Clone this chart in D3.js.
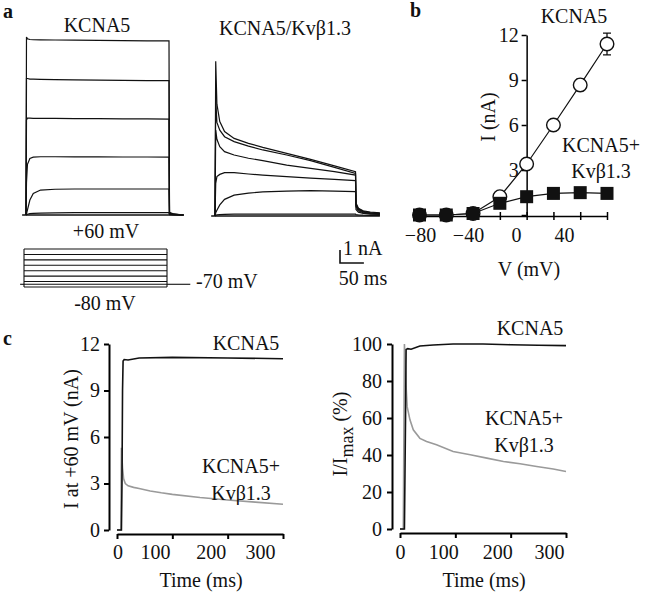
<!DOCTYPE html>
<html><head><meta charset="utf-8">
<script src="https://cdn.jsdelivr.net/npm/d3@7"></script>
<style>
body{margin:0;background:#fff}
svg, svg text, svg g{font-family:"Liberation Serif","DejaVu Serif","Noto Serif",serif !important}
svg text{font-size:20px;fill:#111}
</style>
</head><body>
<svg id="fig" width="647" height="594" font-family="Liberation Serif"></svg>
<script>
// ---------------- DATA ----------------
// Panel a: KCNA5 current traces (nA) vs time (ms)
const kcnaTime = [0, 1, 3, 8, 15, 30, 60, 100, 150, 200, 250, 295, 296, 305, 325];
const kcnaTrace1 = [0, 13.7, 13.55, 13.5, 13.48, 13.47, 13.46, 13.45, 13.44, 13.42, 13.4, 13.4, 0.2, 0.08, 0];
const kcnaTrace2 = [0, 10.5, 10.5, 10.45, 10.45, 10.44, 10.42, 10.4, 10.38, 10.36, 10.34, 10.33, 0.15, 0.06, 0];
const kcnaTrace3 = [0, 7.3, 7.45, 7.45, 7.44, 7.44, 7.43, 7.42, 7.41, 7.4, 7.39, 7.38, 0.12, 0.05, 0];
const kcnaTrace4 = [0, 2.5, 3.9, 4.35, 4.45, 4.48, 4.48, 4.47, 4.47, 4.46, 4.46, 4.45, 0.1, 0.04, 0];
const kcnaTrace5 = [0, 0.1, 0.4, 1.15, 1.65, 1.92, 1.98, 2.0, 2.0, 2.0, 2.0, 2.0, 0.06, 0.02, 0];
const kcnaTrace6 = [0, 0.02, 0.06, 0.1, 0.13, 0.15, 0.17, 0.18, 0.18, 0.18, 0.18, 0.18, 0.03, 0.01, 0];
const kcnaBaseline = {t: [-8, 325], v: [0, 0]};

// Panel a: KCNA5/Kvβ1.3 current traces (nA)
const betaTime = [0, 1.5, 4, 10, 20, 40, 70, 100, 150, 200, 250, 294, 295, 300, 310, 325, 345];
const betaTraceA = [0, 11.9, 8.6, 7.26, 6.5, 5.97, 5.59, 5.28, 4.82, 4.36, 3.85, 3.41, 1.0, 0.6, 0.4, 0.3, 0.25];
const betaTraceB = [0, 9.0, 7.2, 6.6, 6.1, 5.72, 5.38, 5.08, 4.69, 4.26, 3.74, 3.28, 0.9, 0.55, 0.35, 0.25, 0.2];
const betaTraceC = [0, 6.6, 5.9, 5.33, 4.95, 4.69, 4.44, 4.26, 3.92, 3.67, 3.41, 3.15, 0.8, 0.5, 0.3, 0.22, 0.18];
const betaTraceD = [0, 2.5, 3.03, 3.2, 3.33, 3.33, 3.23, 3.15, 3.03, 2.92, 2.82, 2.72, 0.7, 0.4, 0.25, 0.18, 0.15];
const betaTraceE = [0, 0.25, 0.45, 0.85, 1.28, 1.6, 1.76, 1.85, 1.92, 1.95, 1.92, 1.87, 0.5, 0.3, 0.2, 0.15, 0.12];
const betaTraceF = [0, 0.05, 0.08, 0.1, 0.12, 0.14, 0.15, 0.15, 0.15, 0.15, 0.15, 0.15, 0.1, 0.08, 0.06, 0.05, 0.05];
const betaBaseline = {t: [-8, 345], v: [0, 0]};

// Voltage protocol (mV)
const protocolSteps = [-80, -60, -40, -20, 0, 20, 40, 60];
const holdingPotential = -70;
const pulseDuration = 295;

// Panel b: I–V relation
const ivVoltage = [-80, -60, -40, -20, 0, 20, 40, 60];
const ivKCNA5 = [0, 0, 0.1, 1.22, 3.4, 6.0, 8.67, 11.4];
const ivKCNA5Err = [0, 0, 0, 0.1, 0.15, 0.1, 0.38, 0.72];
const ivBeta = [0, 0, 0.1, 0.78, 1.22, 1.44, 1.49, 1.44];
const ivXTicks = [-80, -60, -40, -20, 0, 20, 40, 60];
const ivXLabels = [-80, -40, 0, 40];
const ivYTicks = [0, 3, 6, 9, 12];

// Panel c (left): current at +60 mV (nA)
const cKcnaTime = [0, 8, 9, 10, 11, 13, 20, 40, 100, 200, 300];
const cKcnaCurrent = [0, 0, 3, 9, 10.9, 11.0, 10.97, 11.1, 11.14, 11.1, 11.05];
const cBetaTime = [0, 7, 8, 10, 12, 15, 20, 30, 40, 60, 80, 100, 150, 200, 250, 300];
const cBetaCurrent = [0, 0, 5.3, 4.0, 3.3, 3.0, 2.85, 2.75, 2.68, 2.52, 2.4, 2.3, 2.1, 1.94, 1.8, 1.66];
const cLeftYTicks = [0, 3, 6, 9, 12];
const timeTicks = [0, 100, 200, 300];

// Panel c (right): normalized current (%)
const nKcnaTime = [0, 8, 10, 11, 14, 20, 36, 60, 96, 150, 200, 250, 300];
const nKcnaValue = [0, 0, 60, 97, 97.5, 97.2, 98.9, 99.5, 100, 100, 99.6, 99.3, 99.1];
const nBetaTime = [0, 6, 8, 11, 13, 18, 24, 36, 48, 66, 96, 127, 157, 187, 217, 247, 277, 300];
const nBetaValue = [0, 0, 100, 77, 66, 59, 53.6, 49, 47.3, 45.5, 41.9, 40.1, 38.3, 36.5, 35.3, 33.8, 32.4, 31.1];
const cRightYTicks = [0, 20, 40, 60, 80, 100];

// ---------------- DRAW ----------------
const svg = d3.select("#fig");
const zip = (t, v) => t.map((d, i) => [d, v[i]]);
const greyCol = "#9a9a9a";
const FONT = "Liberation Serif";

function text(x, y, s, opts = {}) {
  const t = svg.append("text").attr("x", x).attr("y", y).attr("font-family", FONT).text(s);
  if (opts.anchor) t.attr("text-anchor", opts.anchor);
  if (opts.bold) t.attr("font-weight", "bold");
  return t;
}

// ===== Panel a =====
text(3, 18, "a", {bold: true});
text(97, 32, "KCNA5", {anchor: "middle"});
text(285, 35, "KCNA5/Kvβ1.3", {anchor: "middle"});

const axL = d3.scaleLinear().domain([0, 295]).range([26, 169]);
const ayL = d3.scaleLinear().domain([0, 1]).range([215, 202]);
const lineL = d3.line().x(d => axL(d[0])).y(d => ayL(d[1]));
const gA = svg.append("g").attr("fill", "none").attr("stroke", "#111").attr("stroke-width", 1.2);
gA.append("path").attr("d", lineL(zip(kcnaBaseline.t, kcnaBaseline.v))).attr("stroke-width", 1.6);
[kcnaTrace1, kcnaTrace2, kcnaTrace3, kcnaTrace4, kcnaTrace5, kcnaTrace6].forEach(tr => {
  gA.append("path").attr("d", lineL(zip(kcnaTime, tr)));
});

const axR = d3.scaleLinear().domain([0, 295]).range([215, 356]);
const ayR = d3.scaleLinear().domain([0, 1]).range([216, 203]);
const lineR = d3.line().x(d => axR(d[0])).y(d => ayR(d[1]));
gA.append("path").attr("d", lineR(zip(betaBaseline.t, betaBaseline.v))).attr("stroke-width", 1.6);
[betaTraceA, betaTraceB, betaTraceC, betaTraceD, betaTraceE, betaTraceF].forEach(tr => {
  gA.append("path").attr("d", lineR(zip(betaTime, tr)));
});

// scale bar (1 nA, 50 ms) using right-trace scales
const sbX0 = 340, sbY0 = 263;
gA.append("path").attr("stroke-width", 1.6)
  .attr("d", `M${sbX0},${sbY0 - (ayR(0) - ayR(1))}V${sbY0}H${sbX0 + (axR(50) - axR(0))}`);
text(343, 255, "1 nA");
text(363, 285, "50 ms", {anchor: "middle"});

// voltage protocol
const pX = d3.scaleLinear().domain([0, pulseDuration]).range([24, 167]);
const pY = d3.scaleLinear().domain([-80, 60]).range([287, 249]);
const gP = svg.append("g").attr("stroke", "#111").attr("stroke-width", 1.1).attr("fill", "none");
protocolSteps.forEach(v => {
  gP.append("line").attr("x1", pX(0)).attr("x2", pX(pulseDuration)).attr("y1", pY(v)).attr("y2", pY(v));
});
gP.append("line").attr("x1", pX(0)).attr("x2", pX(0)).attr("y1", pY(-80)).attr("y2", pY(60));
gP.append("line").attr("x1", pX(pulseDuration)).attr("x2", pX(pulseDuration)).attr("y1", pY(-80)).attr("y2", pY(60));
gP.append("line").attr("x1", pX(-8)).attr("x2", pX(0)).attr("y1", pY(holdingPotential)).attr("y2", pY(holdingPotential));
gP.append("line").attr("x1", pX(pulseDuration)).attr("x2", pX(pulseDuration + 48)).attr("y1", pY(holdingPotential)).attr("y2", pY(holdingPotential));
gP.append("line").attr("x1", pX(0)).attr("x2", pX(pulseDuration)).attr("y1", pY(holdingPotential)).attr("y2", pY(holdingPotential));
text(106, 238, "+60 mV", {anchor: "middle"});
text(105, 310, "-80 mV", {anchor: "middle"});
text(196, 288, "-70 mV");

// ===== Panel b =====
text(410, 17, "b", {bold: true});
const bx = d3.scaleLinear().domain([-80, 60]).range([419.5, 607]);
const by = d3.scaleLinear().domain([0, 12]).range([215, 35]);
const bxLab = d3.scaleLinear().domain([-80, 40]).range([420, 564]);

function fixTickText(g) {
  g.attr("font-family", FONT).attr("font-size", 20);
  g.selectAll(".tick text").attr("font-family", FONT).style("font-size", "20px").attr("fill", "#111");
}

const gBy = svg.append("g").attr("transform", `translate(${bx(0)},0)`)
  .call(d3.axisLeft(by).tickValues(ivYTicks).tickSize(5).tickSizeOuter(0).tickPadding(3).tickFormat(d3.format("d")));
gBy.select(".domain").attr("stroke-width", 1.5);
gBy.selectAll(".tick line").attr("stroke-width", 1.5);
fixTickText(gBy);
gBy.selectAll(".tick").filter(d => d === 0).select("text").remove();

const gBx = svg.append("g").attr("transform", `translate(0,${by(0) + 1})`)
  .call(d3.axisBottom(bx).tickValues(ivXTicks).tickSize(4).tickSizeOuter(0).tickFormat(""));
gBx.select(".domain").attr("stroke-width", 1.5);
gBx.selectAll(".tick line").attr("stroke-width", 1.5).attr("y1", -4);
const gBxl = svg.append("g").attr("transform", `translate(0,${by(0) + 1})`)
  .call(d3.axisBottom(bxLab).tickValues(ivXLabels).tickSize(0).tickPadding(12).tickFormat(d3.format("d")));
gBxl.select(".domain").remove();
fixTickText(gBxl);

const lineB = d3.line().x((d, i) => bx(ivVoltage[i])).y(d => by(d));
svg.append("path").attr("d", lineB(ivKCNA5)).attr("fill", "none").attr("stroke", "#111").attr("stroke-width", 1.2);
svg.append("path").attr("d", lineB(ivBeta)).attr("fill", "none").attr("stroke", "#111").attr("stroke-width", 1.2);
// error bars
ivVoltage.forEach((v, i) => {
  const e = ivKCNA5Err[i];
  if (e > 0.2) {
    svg.append("path").attr("fill", "none").attr("stroke", "#111").attr("stroke-width", 1.3)
      .attr("d", `M${bx(v)},${by(ivKCNA5[i] - e)}V${by(ivKCNA5[i] + e)}M${bx(v) - 4},${by(ivKCNA5[i] - e)}h8M${bx(v) - 4},${by(ivKCNA5[i] + e)}h8`);
  }
});
svg.append("g").selectAll("circle").data(ivKCNA5).join("circle")
  .attr("cx", (d, i) => bx(ivVoltage[i])).attr("cy", d => by(d)).attr("r", 6.8)
  .attr("fill", "#fff").attr("stroke", "#111").attr("stroke-width", 1.4);
svg.append("g").selectAll("rect").data(ivBeta).join("rect")
  .attr("x", (d, i) => bx(ivVoltage[i]) - 6.5).attr("y", d => by(d) - 6.5)
  .attr("width", 13).attr("height", 13).attr("fill", "#111");

text(574, 23, "KCNA5", {anchor: "middle"});
text(601, 152, "KCNA5+", {anchor: "middle"});
text(601, 178, "Kvβ1.3", {anchor: "middle"});
text(529, 276, "V (mV)", {anchor: "middle"});
svg.append("text").attr("font-family", FONT).attr("transform", "translate(495,117) rotate(-90)").attr("text-anchor", "middle").text("I (nA)");

// ===== Panel c left =====
text(3, 345, "c", {bold: true});
const cx1 = d3.scaleLinear().domain([0, 300]).range([117, 283]);
const cy1 = d3.scaleLinear().domain([0, 12]).range([530, 344]);
const cx1Lab = d3.scaleLinear().domain([0, 100, 200, 300]).range([117.5, 155, 210.7, 260]);

function styleAxis(g) {
  g.select(".domain").attr("stroke-width", 2);
  g.selectAll(".tick line").attr("stroke-width", 2);
  fixTickText(g);
}
const gC1y = svg.append("g").attr("transform", "translate(109,0)")
  .call(d3.axisLeft(cy1).tickValues(cLeftYTicks).tickSize(5).tickSizeOuter(0).tickPadding(4).tickFormat(d3.format("d")));
styleAxis(gC1y);
const gC1x = svg.append("g").attr("transform", "translate(0,534)")
  .call(d3.axisBottom(cx1).tickValues(timeTicks).tickSize(5).tickSizeOuter(0).tickFormat(""));
styleAxis(gC1x);
const gC1xl = svg.append("g").attr("transform", "translate(0,534)")
  .call(d3.axisBottom(cx1Lab).tickValues(timeTicks).tickSize(0).tickPadding(11).tickFormat(d3.format("d")));
gC1xl.select(".domain").remove();
styleAxis(gC1xl);

const lineC1 = d3.line().x(d => cx1(d[0])).y(d => cy1(d[1]));
svg.append("path").attr("d", lineC1(zip(cBetaTime, cBetaCurrent))).attr("fill", "none").attr("stroke", greyCol).attr("stroke-width", 1.6);
svg.append("path").attr("d", lineC1(zip(cKcnaTime, cKcnaCurrent))).attr("fill", "none").attr("stroke", "#111").attr("stroke-width", 1.6);

text(246, 350, "KCNA5", {anchor: "middle"});
text(241, 473, "KCNA5+", {anchor: "middle"});
text(241, 500, "Kvβ1.3", {anchor: "middle"});
text(201, 587, "Time (ms)", {anchor: "middle"});
svg.append("text").attr("font-family", FONT).attr("transform", "translate(78,439) rotate(-90)").attr("text-anchor", "middle").text("I at +60 mV (nA)");

// ===== Panel c right =====
const cx2 = d3.scaleLinear().domain([0, 300]).range([400, 566]);
const cy2 = d3.scaleLinear().domain([0, 100]).range([529, 344]);
const cx2Lab = d3.scaleLinear().domain([0, 100, 200, 300]).range([400, 443.3, 497.3, 549]);

const gC2y = svg.append("g").attr("transform", "translate(392,0)")
  .call(d3.axisLeft(cy2).tickValues(cRightYTicks).tickSize(5).tickSizeOuter(0).tickPadding(5).tickFormat(d3.format("d")));
styleAxis(gC2y);
const gC2x = svg.append("g").attr("transform", "translate(0,533)")
  .call(d3.axisBottom(cx2).tickValues(timeTicks).tickSize(5).tickSizeOuter(0).tickFormat(""));
styleAxis(gC2x);
const gC2xl = svg.append("g").attr("transform", "translate(0,533)")
  .call(d3.axisBottom(cx2Lab).tickValues(timeTicks).tickSize(0).tickPadding(12).tickFormat(d3.format("d")));
gC2xl.select(".domain").remove();
styleAxis(gC2xl);

const lineC2 = d3.line().x(d => cx2(d[0])).y(d => cy2(d[1]));
svg.append("path").attr("d", lineC2(zip(nBetaTime, nBetaValue))).attr("fill", "none").attr("stroke", greyCol).attr("stroke-width", 1.6);
svg.append("path").attr("d", lineC2(zip(nKcnaTime, nKcnaValue))).attr("fill", "none").attr("stroke", "#111").attr("stroke-width", 1.6);

text(530, 335, "KCNA5", {anchor: "middle"});
text(524, 425, "KCNA5+", {anchor: "middle"});
text(524, 452, "Kvβ1.3", {anchor: "middle"});
text(484, 587, "Time (ms)", {anchor: "middle"});
const yl = svg.append("text").attr("font-family", FONT).attr("transform", "translate(347,434) rotate(-90)").attr("text-anchor", "middle");
yl.append("tspan").text("I/I");
yl.append("tspan").attr("dy", 6).style("font-size", "18px").text("max");
yl.append("tspan").attr("dy", -6).text(" (%)");
</script>
</body></html>
